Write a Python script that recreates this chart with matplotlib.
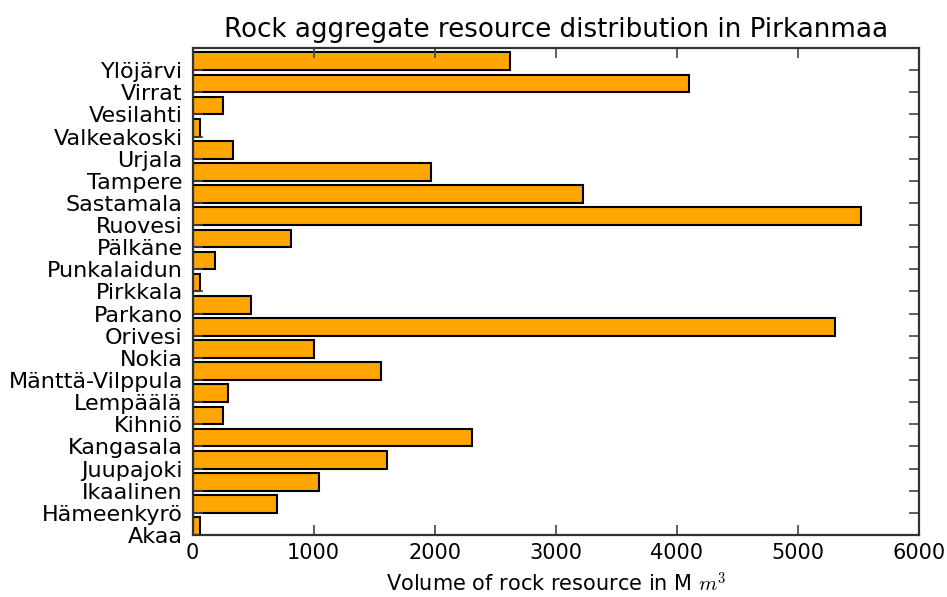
import numpy as np
import matplotlib
matplotlib.use("Agg")
import matplotlib.pyplot as plt

plt.rcParams['font.family'] = 'DejaVu Sans'
plt.rcParams['mathtext.fontset'] = 'cm'

# municipalities, bottom to top
municipalities = ["Akaa", "Hämeenkyrö", "Ikaalinen", "Juupajoki", "Kangasala",
                  "Kihniö", "Lempäälä", "Mänttä-Vilppula", "Nokia", "Orivesi",
                  "Parkano", "Pirkkala", "Punkalaidun", "Pälkäne", "Ruovesi",
                  "Sastamala", "Tampere", "Urjala", "Valkeakoski", "Vesilahti",
                  "Virrat", "Ylöjärvi"]
# rock aggregate volume, million m^3
volumes = [62, 694, 1043, 1610, 2308,
           254, 295, 1560, 1005, 5307,
           482, 62, 186, 810, 5522,
           3225, 1973, 331, 62, 254,
           4103, 2619]

pos = np.arange(len(municipalities))

fig = plt.figure(figsize=(9.47, 5.97), dpi=100)
ax = fig.add_axes([0.2033, 0.1039, 0.7672, 0.8157])

ax.barh(pos, volumes, height=0.8, align='edge', color='#FFA500',
        edgecolor='black', linewidth=1.5)

ax.set_yticks(pos)
ax.set_yticklabels(municipalities, fontsize=16)
ax.set_ylim(0, len(municipalities))
ax.set_xlim(0, 6000)
ax.set_xticks(np.arange(0, 6001, 1000))
ax.tick_params(axis='x', labelsize=15, pad=6)
ax.tick_params(axis='y', pad=7)
ax.tick_params(direction='in', length=7, width=1.2, top=True, right=True,
               color='#444444')

for s in ax.spines.values():
    s.set_linewidth(1.6)
    s.set_color('#333333')

ax.set_title("Rock aggregate resource distribution in Pirkanmaa", fontsize=18.8, pad=8)
ax.set_xlabel("Volume of rock resource in M $m^3$", fontsize=15, labelpad=6)

fig.savefig("out.png", dpi=100)
